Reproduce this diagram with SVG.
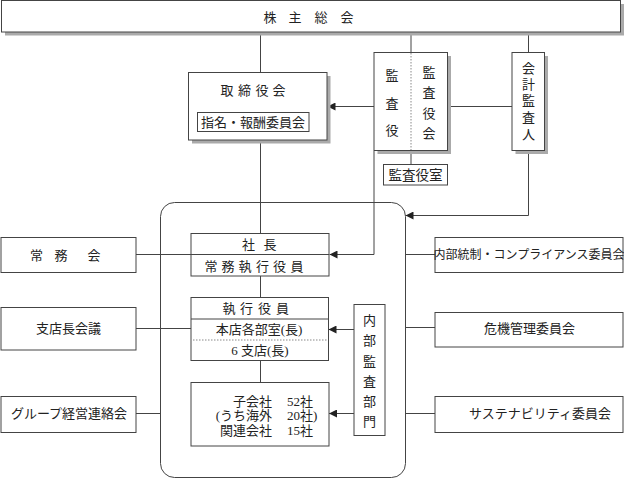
<svg xmlns="http://www.w3.org/2000/svg" width="624" height="479" viewBox="0 0 624 479">
<defs>
<style>
.box{fill:#fff;stroke:#444;stroke-width:1}
.sh{fill:#aaa;stroke:none}
.ln{fill:none;stroke:#444;stroke-width:1}
.dot{fill:none;stroke:#888;stroke-width:1;stroke-dasharray:1.5 1.5}
text{font-family:"Liberation Serif","Noto Sans CJK JP",serif;font-size:13px;fill:#222;text-anchor:middle;dominant-baseline:central}
</style>
<marker id="ah" viewBox="0 0 8 8" refX="8" refY="4" markerWidth="8" markerHeight="8" markerUnits="userSpaceOnUse" orient="auto">
<path d="M0,0 L8,4 L0,8 z" fill="#222"/>
</marker>
</defs>
<rect width="624" height="479" fill="#fff"/>

<g id="connectors">
<path class="ln" d="M260.5,32 V72.5"/>
<path class="ln" d="M411,32 V52.5"/>
<path class="ln" d="M528.5,32 V52.5"/>
<path class="ln" d="M374,106.5 H327.5" marker-end="url(#ah)"/>
<path class="ln" d="M448,106.5 H512"/>
<path class="ln" d="M411,151 V164.5"/>
<path class="ln" d="M374,151 V254.5 H329.5" marker-end="url(#ah)"/>
<path class="ln" d="M528.5,151 V215.5 H405.5" marker-end="url(#ah)"/>
<path class="ln" d="M260.5,140.5 V233.5"/>
<path class="ln" d="M260.5,276 V297.5"/>
<path class="ln" d="M260.5,361 V382.5"/>
<path class="ln" d="M136,254.5 H191"/>
<path class="ln" d="M136,328.5 H191"/>
<path class="ln" d="M136,413.5 H160.5"/>
<path class="ln" d="M405.5,254.5 H435"/>
<path class="ln" d="M405.5,327.5 H435"/>
<path class="ln" d="M405.5,413.5 H435"/>
<path class="ln" d="M354,329.5 H328.5" marker-end="url(#ah)"/>
<path class="ln" d="M354,413.5 H329" marker-end="url(#ah)"/>
</g>

<g id="group-frame">
<rect class="ln" x="160.5" y="202.5" width="245" height="275" rx="14"/>
</g>

<g id="shareholders">
<rect class="sh" x="5" y="4" width="619" height="31.5"/>
<rect class="box" x="1.5" y="0.5" width="619" height="31.5"/>
<text x="270 295 321 347" y="17">株主総会</text>
</g>

<g id="board">
<rect class="sh" x="192" y="76" width="138.5" height="67.5"/>
<rect class="box" x="188.5" y="72.5" width="138.5" height="67.5"/>
<text x="227 244.5 262 279" y="90">取締役会</text>
<rect class="box" x="197.5" y="112.5" width="111.5" height="19"/>
<text x="253" y="122">指名・報酬委員会</text>
</g>

<g id="auditors">
<rect class="sh" x="377.5" y="56" width="73.5" height="98"/>
<rect class="box" x="374" y="52.5" width="73.5" height="98"/>
<path class="dot" d="M411,53 V150"/>
<text x="392" y="75">監</text>
<text x="392" y="103">査</text>
<text x="392" y="130">役</text>
<text x="429" y="72">監</text>
<text x="429" y="92">査</text>
<text x="429" y="113">役</text>
<text x="429" y="133">会</text>
</g>

<g id="audit-office">
<rect class="box" x="383.5" y="164.5" width="64" height="20.5"/>
<text x="415.5" y="175" style="font-size:13.5px">監査役室</text>
</g>

<g id="accounting-auditor">
<rect class="sh" x="515.5" y="56" width="32.5" height="98"/>
<rect class="box" x="512" y="52.5" width="32.5" height="98"/>
<text x="528.5" y="68.5">会</text>
<text x="528.5" y="84">計</text>
<text x="528.5" y="100.5">監</text>
<text x="528.5" y="117">査</text>
<text x="528.5" y="134">人</text>
</g>

<g id="president">
<rect class="box" x="191" y="233.5" width="138" height="42.5"/>
<path class="ln" d="M191,254.5 H329"/>
<text x="248.5 270" y="244.5">社長</text>
<text x="211 228 245 262.5 279.5 297" y="266.5">常務執行役員</text>
</g>

<g id="executive-officers">
<rect class="box" x="191" y="297.5" width="137.5" height="63"/>
<path class="ln" d="M191,319 H328.5"/>
<path class="dot" d="M193,340 H326.5"/>
<text x="229 246.5 264.5 282.5" y="308.5">執行役員</text>
<text x="259" y="329.5">本店各部室(長)</text>
<text x="260" y="350.5">6 支店(長)</text>
</g>

<g id="subsidiaries">
<rect class="box" x="191" y="382.5" width="138" height="63.5"/>
<text y="400.5"><tspan x="272" style="text-anchor:end">子会社</tspan><tspan x="287" style="text-anchor:start">52社</tspan></text>
<text y="415"><tspan x="272" style="text-anchor:end">(うち海外</tspan><tspan x="287" style="text-anchor:start">20社)</tspan></text>
<text y="430"><tspan x="272" style="text-anchor:end">関連会社</tspan><tspan x="287" style="text-anchor:start">15社</tspan></text>
</g>

<g id="internal-audit">
<rect class="box" x="354" y="304.5" width="31" height="131"/>
<text x="369.5" y="320">内</text>
<text x="369.5" y="340.5">部</text>
<text x="369.5" y="361">監</text>
<text x="369.5" y="381">査</text>
<text x="369.5" y="401.5">部</text>
<text x="369.5" y="421.5">門</text>
</g>

<g id="executive-committee">
<rect class="box" x="1" y="237.5" width="135" height="35"/>
<text x="36.5 61 94" y="255">常務会</text>
</g>

<g id="branch-managers">
<rect class="box" x="1" y="307.5" width="135" height="42.5"/>
<text x="68.5" y="328.5">支店長会議</text>
</g>

<g id="group-liaison">
<rect class="box" x="1" y="396.5" width="135" height="36"/>
<text x="69" y="413.5">グループ経営連絡会</text>
</g>

<g id="compliance">
<rect class="box" x="435" y="237.5" width="188" height="35"/>
<text x="529" y="255" style="font-size:12px">内部統制・コンプライアンス委員会</text>
</g>

<g id="risk">
<rect class="box" x="435" y="312.5" width="188" height="34.5"/>
<text x="529.5" y="328.5">危機管理委員会</text>
</g>

<g id="sustainability">
<rect class="box" x="435" y="396.5" width="188" height="36"/>
<text x="540" y="413.5">サステナビリティ委員会</text>
</g>
</svg>
